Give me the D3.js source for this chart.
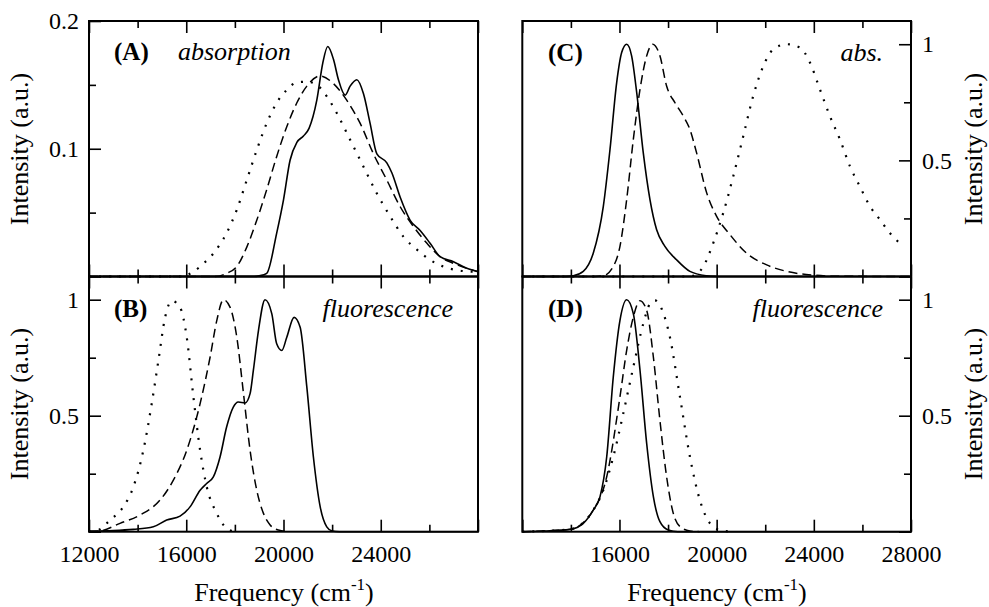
<!DOCTYPE html>
<html>
<head>
<meta charset="utf-8">
<script src="https://cdn.jsdelivr.net/npm/d3@7"></script>
<style>
  body { margin: 0; background: #fff; }
  svg { display: block; }
  text { font-family: "Liberation Serif", "Times New Roman", serif; fill: #000; }
</style>
</head>
<body>
<svg id="chart" width="989" height="607"></svg>
<script>
// frequency axis (cm^-1)
var freqMajor = [12000, 16000, 20000, 24000, 28000]
var freqMinor = [14000, 18000, 22000, 26000]
var freqLabelsLeft = [12000, 16000, 20000, 24000]
var freqLabelsRight = [16000, 20000, 24000, 28000]

// (A) absorption
var absA_solid = [[12000,0],[18800,0],[19000,0.0005],[19310,0.0025],[19720,0.034],[20000,0.060],[20270,0.091],[20550,0.105],[20820,0.110],[21050,0.116],[21370,0.138],[21615,0.167],[21820,0.180],[22055,0.170],[22260,0.154],[22535,0.142],[22740,0.149],[23015,0.154],[23290,0.143],[23560,0.120],[23840,0.096],[24250,0.089],[24460,0.081],[24800,0.062],[25210,0.044],[25620,0.036],[26030,0.026],[26440,0.0155],[26990,0.0116],[27540,0.0064],[28000,0.0038]]
var absA_dashed = [[12000,0],[17200,0],[17660,0.0025],[18075,0.0077],[18490,0.023],[18900,0.044],[19310,0.068],[19720,0.094],[20130,0.117],[20550,0.136],[20960,0.149],[21510,0.157],[22055,0.151],[22600,0.138],[23150,0.120],[23700,0.096],[24250,0.0755],[24800,0.0546],[25350,0.039],[25900,0.026],[26440,0.0155],[26990,0.0103],[27540,0.0064],[28000,0.0038]]
var absA_dotted = [[12000,0],[15800,0],[16290,0.0038],[16700,0.010],[17115,0.018],[17660,0.034],[18075,0.052],[18490,0.0755],[18900,0.099],[19310,0.120],[19720,0.136],[20130,0.146],[20550,0.152],[20960,0.1525],[21370,0.150],[21780,0.141],[22190,0.128],[22740,0.107],[23290,0.086],[23840,0.065],[24390,0.047],[24940,0.031],[25490,0.021],[26030,0.013],[26580,0.0077],[27130,0.005],[28000,0.0035]]

// (B) fluorescence
var fluB_solid = [[12000,0.003],[13000,0.005],[13825,0.01],[14645,0.021],[15195,0.05],[15745,0.067],[16155,0.107],[16570,0.179],[16840,0.208],[17115,0.236],[17390,0.322],[17660,0.451],[17935,0.537],[18140,0.559],[18420,0.555],[18625,0.595],[18760,0.695],[18970,0.867],[19240,1.0],[19520,0.939],[19720,0.81],[19930,0.781],[20135,0.838],[20435,0.924],[20685,0.881],[20960,0.623],[21230,0.322],[21510,0.107],[21780,0.021],[22000,0.003],[22300,0],[28000,0]]
var fluB_dashed = [[12000,0],[12450,0.003],[13275,0.036],[14100,0.072],[14920,0.136],[15470,0.222],[16020,0.351],[16570,0.552],[16980,0.752],[17255,0.910],[17530,1.0],[17805,0.967],[18080,0.838],[18355,0.595],[18625,0.351],[18900,0.179],[19175,0.079],[19450,0.029],[19790,0.007],[20200,0]]
var fluB_dotted = [[12000,0],[12400,0.008],[12865,0.05],[13410,0.107],[13825,0.193],[14235,0.351],[14580,0.552],[14855,0.738],[15130,0.924],[15405,0.995],[15745,0.967],[16020,0.838],[16295,0.580],[16570,0.351],[16845,0.193],[17255,0.079],[17665,0.014],[18000,0]]

// (C) abs.
var absC_solid = [[12000,0],[13800,0],[14100,0.003],[14510,0.022],[14920,0.10],[15335,0.302],[15610,0.547],[15885,0.835],[16090,0.964],[16296,1.0],[16500,0.95],[16710,0.791],[16980,0.532],[17255,0.331],[17530,0.201],[17870,0.13],[18350,0.072],[18900,0.022],[19590,0.003],[20000,0]]
var absC_dashed = [[12000,0],[15000,0],[15335,0.003],[15745,0.043],[16020,0.13],[16296,0.331],[16570,0.59],[16845,0.806],[17120,0.95],[17365,1.0],[17665,0.95],[17940,0.82],[18285,0.748],[18625,0.691],[18900,0.633],[19175,0.532],[19590,0.36],[20000,0.259],[20550,0.18],[21235,0.10],[22060,0.05],[22880,0.022],[23975,0.006],[25000,0.001],[28000,0]]
var absC_dotted = [[12000,0],[18700,0],[19035,0.003],[19450,0.043],[19860,0.144],[20270,0.273],[20685,0.432],[21095,0.604],[21505,0.777],[21920,0.906],[22330,0.978],[22880,1.0],[23430,0.986],[23840,0.921],[24250,0.806],[24660,0.691],[25075,0.59],[25485,0.475],[25895,0.388],[26310,0.302],[26720,0.245],[27130,0.187],[27690,0.13]]

// (D) fluorescence
var fluD_solid = [[12000,0],[12900,0.003],[13960,0.01],[14510,0.036],[14920,0.093],[15200,0.151],[15475,0.323],[15745,0.667],[16020,0.911],[16296,1.0],[16570,0.94],[16845,0.696],[17120,0.38],[17395,0.151],[17665,0.043],[18010,0.007],[18400,0],[28000,0]]
var fluD_dashed = [[12000,0],[12900,0.003],[13960,0.01],[14920,0.093],[15475,0.237],[16020,0.581],[16296,0.782],[16570,0.925],[16845,0.996],[17120,0.954],[17395,0.753],[17665,0.48],[17940,0.237],[18215,0.079],[18490,0.022],[18900,0.003],[19300,0]]
var fluD_dotted = [[12000,0],[12900,0.003],[13960,0.01],[14920,0.093],[15335,0.179],[15745,0.323],[16155,0.509],[16570,0.71],[16980,0.897],[17255,0.983],[17460,0.997],[17735,0.961],[18075,0.839],[18490,0.581],[18900,0.323],[19310,0.136],[19725,0.036],[20140,0.007],[20600,0]]

var svg = d3.select('#chart')

var styles = {
  solid:  { width: 1.6, dash: null },
  dashed: { width: 1.5, dash: '9,5' },
  dotted: { width: 2.2, dash: '2,8' }
}

var panels = [
  { label: '(A)', note: 'absorption', noteAnchor: 'start', noteX: 178, labelX: 114, base: 60,
    x0: 89, x1: 478, y0: 21, y1: 276.5, yMax: 0.2, yMajor: [0, 0.1, 0.2], yMinor: [0.05, 0.15], yLabels: [0.1, 0.2],
    side: 'left', xLabels: null,
    curves: [[absA_solid, 'solid'], [absA_dashed, 'dashed'], [absA_dotted, 'dotted']] },
  { label: '(B)', note: 'fluorescence', noteAnchor: 'end', noteX: 453, labelX: 114, base: 316.5,
    x0: 89, x1: 478, y0: 276.5, y1: 531.7, yMax: 1.1, yMajor: [0, 0.5, 1], yMinor: [0.25, 0.75], yLabels: [0.5, 1],
    side: 'left', xLabels: freqLabelsLeft,
    curves: [[fluB_solid, 'solid'], [fluB_dashed, 'dashed'], [fluB_dotted, 'dotted']] },
  { label: '(C)', note: 'abs.', noteAnchor: 'end', noteX: 883, labelX: 548, base: 61,
    x0: 522.3, x1: 911, y0: 21, y1: 276.5, yMax: 1.1, yMajor: [0, 0.5, 1], yMinor: [0.25, 0.75], yLabels: [0.5, 1],
    side: 'right', xLabels: null,
    curves: [[absC_solid, 'solid'], [absC_dashed, 'dashed'], [absC_dotted, 'dotted']] },
  { label: '(D)', note: 'fluorescence', noteAnchor: 'end', noteX: 883, labelX: 548, base: 316.5,
    x0: 522.3, x1: 911, y0: 276.5, y1: 531.7, yMax: 1.1, yMajor: [0, 0.5, 1], yMinor: [0.25, 0.75], yLabels: [0.5, 1],
    side: 'right', xLabels: freqLabelsRight,
    curves: [[fluD_solid, 'solid'], [fluD_dashed, 'dashed'], [fluD_dotted, 'dotted']] }
]

function styleAxis(sel) {
  sel.select('.domain').remove()
  sel.attr('font-family', null).attr('font-size', null)
  sel.selectAll('line').attr('stroke', '#000').attr('stroke-width', 1.6)
  sel.selectAll('text').style('font-size', '24px')
}

panels.forEach(function(p) {
  var x = d3.scaleLinear().domain([12000, 28000]).range([p.x0, p.x1])
  var y = d3.scaleLinear().domain([0, p.yMax]).range([p.y1, p.y0])
  var g = svg.append('g')

  var line = d3.line()
    .x(function(d) { return x(d[0]) })
    .y(function(d) { return y(d[1]) })
    .curve(d3.curveMonotoneX)

  p.curves.forEach(function(c) {
    var s = styles[c[1]]
    g.append('path').datum(c[0])
      .attr('d', line)
      .attr('fill', 'none')
      .attr('stroke', '#000')
      .attr('stroke-width', s.width)
      .attr('stroke-dasharray', s.dash)
  })

  // x ticks, inward, top and bottom
  g.append('g').attr('transform', 'translate(0,' + p.y0 + ')')
    .call(d3.axisTop(x).tickValues(freqMajor).tickSize(-12).tickFormat(''))
    .call(styleAxis)
  g.append('g').attr('transform', 'translate(0,' + p.y0 + ')')
    .call(d3.axisTop(x).tickValues(freqMinor).tickSize(-7).tickFormat(''))
    .call(styleAxis)
  var labs = p.xLabels
  g.append('g').attr('transform', 'translate(0,' + p.y1 + ')')
    .call(d3.axisBottom(x).tickValues(freqMajor).tickSize(-12).tickPadding(13)
      .tickFormat(function(d) { return labs && labs.indexOf(d) >= 0 ? String(d) : '' }))
    .call(styleAxis)
  g.append('g').attr('transform', 'translate(0,' + p.y1 + ')')
    .call(d3.axisBottom(x).tickValues(freqMinor).tickSize(-7).tickFormat(''))
    .call(styleAxis)

  // y ticks on one side only
  var yl = p.yLabels
  var fmt = function(d) { return yl.indexOf(d) >= 0 ? String(d) : '' }
  if (p.side == 'left') {
    g.append('g').attr('transform', 'translate(' + p.x0 + ',0)')
      .call(d3.axisLeft(y).tickValues(p.yMajor).tickSize(-12).tickPadding(10).tickFormat(fmt))
      .call(styleAxis)
    g.append('g').attr('transform', 'translate(' + p.x0 + ',0)')
      .call(d3.axisLeft(y).tickValues(p.yMinor).tickSize(-7).tickFormat(''))
      .call(styleAxis)
  } else {
    g.append('g').attr('transform', 'translate(' + p.x1 + ',0)')
      .call(d3.axisRight(y).tickValues(p.yMajor).tickSize(-12).tickPadding(11).tickFormat(fmt))
      .call(styleAxis)
    g.append('g').attr('transform', 'translate(' + p.x1 + ',0)')
      .call(d3.axisRight(y).tickValues(p.yMinor).tickSize(-7).tickFormat(''))
      .call(styleAxis)
  }

  // frame
  g.append('rect')
    .attr('x', p.x0).attr('y', p.y0)
    .attr('width', p.x1 - p.x0).attr('height', p.y1 - p.y0)
    .attr('fill', 'none').attr('stroke', '#000').attr('stroke-width', 2)

  g.append('text').attr('x', p.labelX).attr('y', p.base)
    .style('font-size', '25px').style('font-weight', 'bold')
    .text(p.label)
  g.append('text').attr('x', p.noteX).attr('y', p.base)
    .attr('text-anchor', p.noteAnchor)
    .style('font-size', '26px').style('font-style', 'italic')
    .text(p.note)
})

// axis titles
function yTitle(tx, cy) {
  svg.append('text')
    .attr('transform', 'translate(' + tx + ',' + cy + ') rotate(-90)')
    .attr('text-anchor', 'middle')
    .style('font-size', '26px')
    .text('Intensity (a.u.)')
}
yTitle(28, 149)
yTitle(28, 404)
yTitle(982, 149)
yTitle(982, 404)

function xTitle(cx) {
  var t = svg.append('text')
    .attr('x', cx).attr('y', 601)
    .attr('text-anchor', 'middle')
    .style('font-size', '26px')
  t.append('tspan').text('Frequency (cm')
  t.append('tspan').attr('dy', -11).style('font-size', '17px').text('-1')
  t.append('tspan').attr('dy', 11).text(')')
}
xTitle(284)
xTitle(717)
</script>
</body>
</html>
